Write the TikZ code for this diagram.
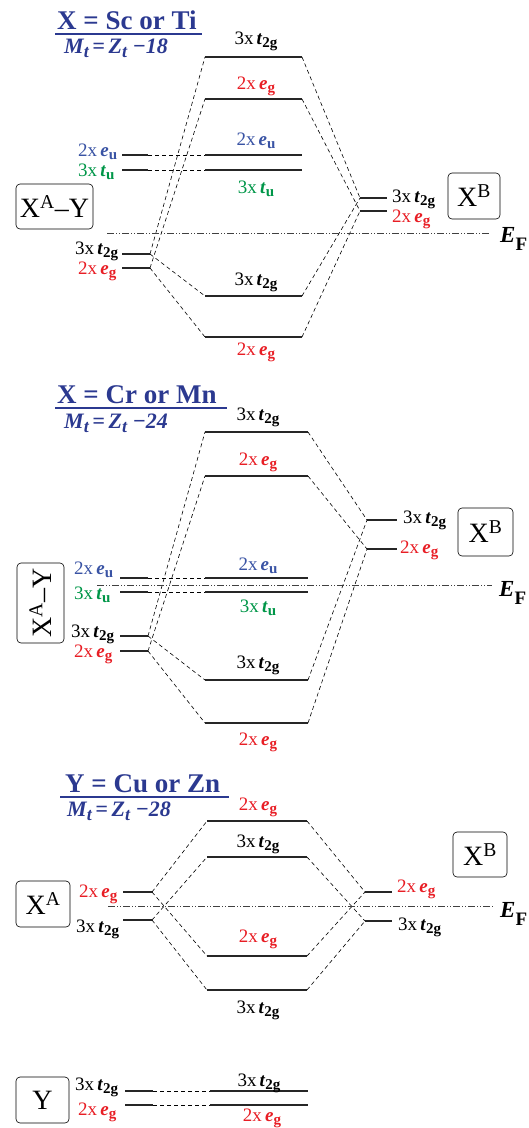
\documentclass[tikz,border=0pt]{standalone}
\usepackage{fontspec}
\setmainfont{Liberation Serif}
\usetikzlibrary{positioning}

\definecolor{titleblue}{RGB}{43,57,144}
\definecolor{eublue}{RGB}{57,83,164}
\definecolor{tugreen}{RGB}{0,150,72}
\definecolor{egred}{RGB}{232,30,37}

\newcommand{\sbs}[1]{\raisebox{-0.35ex}{\fontsize{15}{15}\selectfont\textbf{#1}}}
\newcommand{\lvtg}{3x\,\textbf{\textit{t}}\sbs{2g}}
\newcommand{\lveg}{2x\,\textbf{\textit{e}}\sbs{g}}
\newcommand{\lveu}{2x\,\textbf{\textit{e}}\sbs{u}}
\newcommand{\lvtu}{3x\,\textbf{\textit{t}}\sbs{u}}
\newcommand{\mtsub}{\raisebox{-0.45ex}{\fontsize{18}{18}\selectfont t}}
\newcommand{\efermi}{\textbf{\textit{E}}\raisebox{-8pt}{\fontsize{19}{19}\selectfont\textbf{F}}}

\begin{document}
\begin{tikzpicture}[x=1pt,y=-1pt,
    lvl/.style={line width=1.3pt,black!85},
    link/.style={line width=0.6pt,dash pattern=on 4pt off 3pt},
    fermi/.style={line width=0.6pt,black!75,dash pattern=on 7pt off 2pt on 1pt off 2pt on 1pt off 2pt},
    lab/.style={font=\fontsize{19}{21}\selectfont,inner sep=0pt},
    atom/.style={draw,rounded corners=4pt,line width=0.6pt,font=\fontsize{28}{30}\selectfont,inner sep=0pt},
    ttl/.style={font=\fontsize{27}{30}\selectfont\bfseries,text=titleblue,inner sep=0pt},
    mtz/.style={font=\fontsize{22}{24}\selectfont\bfseries\itshape,text=titleblue,inner sep=0pt},
    ef/.style={font=\fontsize{23}{24}\selectfont,inner sep=0pt,anchor=base west},
    ul/.style={line width=1.2pt,titleblue}]

\useasboundingbox (0,0) rectangle (528,1128);

% ---------- X = Sc or Ti ----------
\node[ttl,anchor=base west] (aTtl) at (57,29) {X = Sc or Ti};
\draw[ul] (55,34) -- (202,34);
\node[mtz,anchor=base west] (aMz) at (64,53) {M\mtsub\,=\,Z\mtsub\ −18};

% levels
\foreach \n/\xa/\xb/\y in {
    aLeu/122/148/155, aLtu/122/148/170, aLtg/122/150/254, aLeg/122/150/268,
    aMtg/205/302/57, aMeg/205/302/99, aMeu/205/302/155, aMtu/205/302/170,
    aMtgb/205/302/296, aMegb/205/302/337,
    aRtg/360/387/198, aReg/360/387/211}{
    \coordinate (\n-l) at (\xa,\y);
    \coordinate (\n-r) at (\xb,\y);
    \draw[lvl] (\n-l) -- (\n-r);
}

% links
\foreach \a/\b in {aLeu-r/aMeu-l, aLtu-r/aMtu-l,
    aLtg-r/aMtg-l, aLtg-r/aMtgb-l, aLeg-r/aMeg-l, aLeg-r/aMegb-l,
    aMtg-r/aRtg-l, aMtgb-r/aRtg-l, aMeg-r/aReg-l, aMegb-r/aReg-l}{
    \draw[link] (\a) -- (\b);
}

% Fermi level
\coordinate (aF1) at (107,233);
\coordinate (aF2) at (490,233);
\draw[fermi] (aF1) -- (aF2);
\node[ef] (aEF) at (500,242) {\efermi};

% labels
\node[lab,anchor=base west,text=eublue] (aLeuT) at (78,156) {\lveu};
\node[lab,anchor=base west,text=tugreen] (aLtuT) at (78,176) {\lvtu};
\node[lab,anchor=base west] (aLtgT) at (75,254) {\lvtg};
\node[lab,anchor=base west,text=egred] (aLegT) at (78,274) {\lveg};
\node[lab,anchor=base] (aMtgT) at (256,44) {\lvtg};
\node[lab,anchor=base,text=egred] (aMegT) at (256,89) {\lveg};
\node[lab,anchor=base,text=eublue] (aMeuT) at (256,145) {\lveu};
\node[lab,anchor=base,text=tugreen] (aMtuT) at (256,193) {\lvtu};
\node[lab,anchor=base] (aMtgbT) at (256,285) {\lvtg};
\node[lab,anchor=base,text=egred] (aMegbT) at (256,355) {\lveg};
\node[lab,anchor=base west] (aRtgT) at (392,202) {\lvtg};
\node[lab,anchor=base west,text=egred] (aRegT) at (392,222) {\lveg};

% atoms
\node[atom,minimum width=77pt,minimum height=45pt] (aXAY) at (54.5,206.5) {X\textsuperscript{A}–Y};
\node[atom,minimum width=52pt,minimum height=46pt] (aXB) at (474,196) {X\textsuperscript{B}};

% ---------- X = Cr or Mn ----------
\node[ttl,anchor=base west] (bTtl) at (57,403) {X = Cr or Mn};
\draw[ul] (55,408) -- (227,408);
\node[mtz,anchor=base west] (bMz) at (64,428) {M\mtsub\,=\,Z\mtsub\ −24};

% levels
\foreach \n/\xa/\xb/\y in {
    bLeu/120/148/578, bLtu/120/148/592, bLtg/120/148/636, bLeg/120/148/651,
    bMtg/205/308/432, bMeg/205/308/476, bMeu/205/308/578, bMtu/205/308/592,
    bMtgb/205/308/680, bMegb/205/308/723,
    bRtg/367/397/520, bReg/367/397/549}{
    \coordinate (\n-l) at (\xa,\y);
    \coordinate (\n-r) at (\xb,\y);
    \draw[lvl] (\n-l) -- (\n-r);
}

% links
\foreach \a/\b in {bLeu-r/bMeu-l, bLtu-r/bMtu-l,
    bLtg-r/bMtg-l, bLtg-r/bMtgb-l, bLeg-r/bMeg-l, bLeg-r/bMegb-l,
    bMtg-r/bRtg-l, bMtgb-r/bRtg-l, bMeg-r/bReg-l, bMegb-r/bReg-l}{
    \draw[link] (\a) -- (\b);
}

% Fermi level
\coordinate (bF1) at (97,585);
\coordinate (bF2) at (492,585);
\draw[fermi] (bF1) -- (bF2);
\node[ef] (bEF) at (499,596) {\efermi};

% labels
\node[lab,anchor=base west,text=eublue] (bLeuT) at (74,574) {\lveu};
\node[lab,anchor=base west,text=tugreen] (bLtuT) at (74,599) {\lvtu};
\node[lab,anchor=base west] (bLtgT) at (71,637) {\lvtg};
\node[lab,anchor=base west,text=egred] (bLegT) at (74,657) {\lveg};
\node[lab,anchor=base] (bMtgT) at (258,420) {\lvtg};
\node[lab,anchor=base,text=egred] (bMegT) at (258,465) {\lveg};
\node[lab,anchor=base,text=eublue] (bMeuT) at (258,570) {\lveu};
\node[lab,anchor=base,text=tugreen] (bMtuT) at (258,612) {\lvtu};
\node[lab,anchor=base] (bMtgbT) at (258,668) {\lvtg};
\node[lab,anchor=base,text=egred] (bMegbT) at (258,745) {\lveg};
\node[lab,anchor=base west] (bRtgT) at (403,523) {\lvtg};
\node[lab,anchor=base west,text=egred] (bRegT) at (400,553) {\lveg};

% atoms
\node[atom,rotate=90,minimum width=80pt,minimum height=47pt] (bXAY) at (40.5,603) {X\textsuperscript{A}–Y};
\node[atom,minimum width=55pt,minimum height=48pt] (bXB) at (485.5,532) {X\textsuperscript{B}};

% ---------- Y = Cu or Zn ----------
\node[ttl,anchor=base west] (cTtl) at (65,792) {Y = Cu or Zn};
\draw[ul] (60,797) -- (229,797);
\node[mtz,anchor=base west] (cMz) at (67,816) {M\mtsub\,=\,Z\mtsub\ −28};

% levels
\foreach \n/\xa/\xb/\y in {
    cLeg/123/152/892, cLtg/123/152/920,
    cMeg/207/307/821, cMtg/207/307/857, cMegb/207/307/956, cMtgb/207/307/990,
    cReg/365/392/892, cRtg/365/392/921}{
    \coordinate (\n-l) at (\xa,\y);
    \coordinate (\n-r) at (\xb,\y);
    \draw[lvl] (\n-l) -- (\n-r);
}

% links
\foreach \a/\b in {cLeg-r/cMeg-l, cLeg-r/cMegb-l, cLtg-r/cMtg-l, cLtg-r/cMtgb-l,
    cMeg-r/cReg-l, cMegb-r/cReg-l, cMtg-r/cRtg-l, cMtgb-r/cRtg-l}{
    \draw[link] (\a) -- (\b);
}

% Fermi level
\coordinate (cF1) at (108,906);
\coordinate (cF2) at (493,906);
\draw[fermi] (cF1) -- (cF2);
\node[ef] (cEF) at (500,917) {\efermi};

% labels
\node[lab,anchor=base west,text=egred] (cLegT) at (79,897) {\lveg};
\node[lab,anchor=base west] (cLtgT) at (76,932) {\lvtg};
\node[lab,anchor=base,text=egred] (cMegT) at (258,810) {\lveg};
\node[lab,anchor=base] (cMtgT) at (258,847) {\lvtg};
\node[lab,anchor=base,text=egred] (cMegbT) at (258,942) {\lveg};
\node[lab,anchor=base] (cMtgbT) at (258,1013) {\lvtg};
\node[lab,anchor=base west,text=egred] (cRegT) at (397,892) {\lveg};
\node[lab,anchor=base west] (cRtgT) at (398,930) {\lvtg};

% atoms
\node[atom,minimum width=54pt,minimum height=46pt] (cXA) at (43,904) {X\textsuperscript{A}};
\node[atom,minimum width=54pt,minimum height=45pt] (cXB) at (480,854.5) {X\textsuperscript{B}};

% ---------- Y ----------
\foreach \n/\xa/\xb/\y in {
    dLtg/125/153/1091, dLeg/125/153/1105,
    dMtg/210/308/1091, dMeg/210/308/1105}{
    \coordinate (\n-l) at (\xa,\y);
    \coordinate (\n-r) at (\xb,\y);
    \draw[lvl] (\n-l) -- (\n-r);
}
\draw[link] (dLtg-r) -- (dMtg-l);
\draw[link] (dLeg-r) -- (dMeg-l);

\node[lab,anchor=base west] (dLtgT) at (75,1090) {\lvtg};
\node[lab,anchor=base west,text=egred] (dLegT) at (78,1115) {\lveg};
\node[lab,anchor=base] (dMtgT) at (259,1086) {\lvtg};
\node[lab,anchor=base,text=egred] (dMegT) at (262,1121) {\lveg};

\node[atom,minimum width=53pt,minimum height=46pt] (dY) at (42.5,1100) {Y};

\end{tikzpicture}
\end{document}
